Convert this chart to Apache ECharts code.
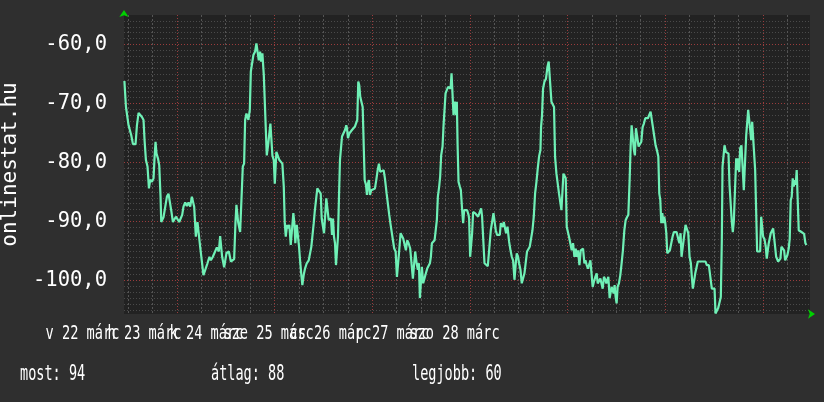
<!DOCTYPE html>
<html>
<head>
<meta charset="utf-8">
<script src="https://cdn.jsdelivr.net/npm/echarts@6/dist/echarts.min.js"></script>
<style>
html,body{margin:0;padding:0;background:#2f2f2f;}
#c{width:824px;height:402px;}
</style>
</head>
<body>
<div id="c"></div>
<script>
// time in hours since midnight of 21 March; values are the signal level
const hours = [11.1,11.48,12.12,12.78,13.2,13.84,14.18,14.58,14.99,15.41,15.8,16.05,16.39,16.78,17.13,17.45,17.86,18.26,18.5,18.75,18.99,19.34,19.66,19.98,20.15,20.47,20.71,21.2,21.55,21.94,22.36,22.6,23.02,23.34,23.76,24.15,24.57,24.98,25.3,25.62,26.04,26.46,26.85,27.27,27.68,28.0,28.25,28.66,29.06,29.4,29.72,30.14,30.53,31.02,31.51,32.0,32.35,32.84,33.33,33.82,34.31,34.63,35.12,35.61,36.18,36.77,37.26,37.75,38.07,38.39,38.63,39.05,39.3,39.54,39.96,40.2,40.52,40.77,41.09,41.33,41.58,41.92,42.17,42.48,42.8,43.22,43.54,43.88,44.13,44.45,44.69,45.01,45.36,45.75,46.09,46.41,46.66,46.98,47.22,47.47,47.81,48.06,48.45,48.87,49.19,49.6,49.92,50.27,50.51,50.76,51.08,51.32,51.64,51.98,52.3,52.62,52.87,53.11,53.46,53.78,54.02,54.27,54.59,54.83,55.17,55.49,55.91,56.4,56.72,57.04,57.29,57.63,57.87,58.19,58.51,59.0,59.35,59.59,59.91,60.16,60.48,60.72,61.07,61.31,61.63,61.88,62.12,62.37,62.61,62.86,63.1,63.42,63.59,63.84,64.08,64.33,64.58,64.99,65.31,65.63,65.8,66.05,66.37,66.71,67.03,67.35,67.77,68.09,68.33,68.58,68.82,69.07,69.41,69.66,69.9,70.15,70.47,70.71,70.96,71.2,71.45,71.77,72.26,72.68,73.0,73.34,73.66,73.98,74.39,74.81,75.13,75.55,75.87,76.19,76.53,76.85,77.1,77.41,77.76,78.08,78.39,78.64,78.98,79.3,79.62,79.97,80.29,80.6,80.95,81.34,81.69,82.0,82.32,82.57,82.92,83.23,83.48,83.72,83.97,84.21,84.53,84.95,85.19,85.52,85.86,86.18,86.42,86.67,86.99,87.33,87.65,87.89,88.14,88.46,88.7,88.95,89.29,89.54,89.78,90.03,90.35,90.67,91.01,91.26,91.5,91.75,91.99,92.31,92.63,92.8,92.98,93.22,93.54,93.79,94.11,94.35,94.6,94.94,95.33,95.68,95.82,96.07,96.31,96.56,96.8,97.05,97.3,97.64,98.03,98.45,98.77,99.01,99.26,99.6,99.92,100.41,100.9,101.15,101.47,101.81,102.13,102.37,102.69,103.04,103.36,103.61,103.85,104.1,104.34,104.66,104.91,105.25,105.64,105.99,106.31,106.63,106.97,107.29,107.53,107.85,108.1,108.44,108.76,109.18,109.42,109.74,110.06,110.41,110.72,111.04,111.39,111.71,112.03,112.37,112.69,113.01,113.35,113.5,113.74,113.99,114.33,114.72,115.07,115.38,115.8,116.05,116.37,116.69,116.94,117.28,117.6,117.92,118.27,118.51,118.76,119.0,119.32,119.57,119.81,120.13,120.37,120.72,121.04,121.36,121.7,122.02,122.27,122.59,122.93,123.25,123.57,123.82,124.16,124.4,124.72,125.04,125.38,125.63,125.95,126.19,126.51,126.85,127.17,127.42,127.74,128.08,128.4,128.65,128.96,129.31,129.55,129.8,130.04,130.36,130.6,130.85,131.09,131.34,131.58,131.83,132.07,132.32,132.64,132.98,133.3,133.62,133.97,134.29,134.61,134.95,135.27,135.52,135.76,136.08,136.33,136.57,136.82,137.16,137.48,137.8,138.14,138.46,138.78,139.12,139.44,139.76,140.1,140.42,140.74,140.99,141.33,141.65,141.97,142.32,142.56,142.81,143.05,143.3,143.54,143.79,144.03,144.28,144.52,144.84,145.16,145.5,145.82,146.14,146.49,146.81,147.05,147.3,147.54,147.79,148.03,148.35,148.7,149.01,149.33,149.68,150.0,150.32,150.56,150.81,151.15,151.4,151.72,152.03,152.28,152.62,152.94,153.26,153.6,153.92,154.24,154.74,155.23,155.47,155.82,156.14,156.38,156.7,157.04,157.36,157.68,157.93,158.1,158.34,158.59,158.91,159.25,159.57,159.82,160.13,160.38,160.63,160.87,161.22,161.46,161.71,161.95,162.2,162.44,162.76,163.08,163.33,163.67,163.92,164.16,164.41,164.65,164.9,165.14,165.39,165.63,165.88,166.12,166.37,166.61,166.93,167.35,167.6,167.84,168.09,168.41,168.73,168.97,169.22,169.46,169.71,169.95,170.3,170.54,170.79,171.03,171.28,171.52,171.77,172.09,172.33,172.58,172.9,173.24,173.49,173.81,174.05,174.37,174.62,174.86,175.11,175.35,175.6,175.84,176.09,176.33,176.58,176.83,177.17,177.49,177.81,178.15,178.47,178.72];
const values = [-66.2,-70.6,-73.7,-75.4,-76.9,-76.9,-73.7,-71.6,-71.4,-72.3,-72.8,-76.2,-79.6,-80.7,-84.4,-82.9,-83.3,-82.7,-79.3,-76.5,-78.5,-79.3,-80.5,-85.8,-90.1,-90.3,-89.3,-89.4,-85.8,-85.3,-85.1,-88.1,-90.1,-90.3,-89.2,-89.3,-90.1,-90.3,-88.9,-87.5,-86.8,-87.4,-86.8,-87.5,-85.8,-85.6,-87.5,-92.6,-90.1,-90.3,-94.3,-94.6,-99.1,-99.1,-97.1,-96,-96.6,-96,-95.7,-94.4,-95.1,-92.5,-96,-97.8,-95.4,-95.1,-96.8,-97.1,-96.4,-90.3,-87.2,-90.1,-90.3,-91.8,-91.8,-80.7,-80.2,-72.8,-71.7,-71.4,-72.8,-71.1,-64.6,-64.4,-61.8,-61.2,-59.8,-59.7,-62.7,-61.2,-62.9,-61.5,-65.2,-65.5,-78.8,-77.1,-77.4,-73.4,-73.7,-78.8,-79.6,-83.6,-78.2,-78.5,-79.6,-79.3,-80.2,-84.1,-90.3,-92.6,-90.6,-91.2,-90.6,-94,-94.3,-88.6,-90.3,-93.7,-90.6,-90.6,-94.3,-96.6,-99.1,-100.8,-99.1,-98,-97.1,-96.6,-96.4,-94.3,-92.6,-90.3,-88.4,-88.1,-84.4,-84.7,-85.3,-89.5,-89.8,-92,-91.8,-86.1,-86.4,-89.8,-90.1,-89.5,-92.3,-89.5,-92.6,-93.7,-97.4,-97.4,-92.6,-85.8,-79.6,-79.3,-75.6,-75.4,-74.5,-73.7,-74.2,-75.9,-75.1,-75.1,-74.5,-74.2,-73.9,-73.7,-72.8,-66.3,-66.9,-68.9,-69.2,-70.6,-70.9,-83,-83.8,-85.5,-83.6,-83,-85.5,-84.7,-84.7,-84.4,-83,-81.3,-80.2,-81.6,-81.3,-81.3,-82.7,-85.3,-85.3,-88.9,-90.6,-90.9,-93.2,-94.6,-95.1,-99.4,-99.4,-94.9,-92,-92.3,-92.9,-93.2,-94.9,-93.2,-93.7,-94.6,-94.9,-99.7,-99.9,-95.1,-97.1,-98.2,-97.1,-103,-103,-97.7,-100.5,-100.5,-98.8,-98,-97.7,-97.1,-96,-93.7,-93.4,-93.2,-92.9,-89.8,-85.8,-84.1,-82.4,-78.8,-77.3,-73.7,-73.4,-68.3,-67.7,-67.2,-67.2,-67.5,-64.9,-64.9,-72,-69.7,-72,-69.7,-76.8,-83.3,-84.1,-84.7,-88.1,-90.3,-88.1,-88.4,-88.1,-88.9,-89.5,-96,-96,-92,-88.4,-88.1,-88.6,-88.4,-89.2,-89.2,-87.8,-89.2,-92.6,-97.1,-97.4,-97.6,-97.6,-91.5,-90.1,-88.6,-90.3,-91.5,-92.3,-92,-92.3,-90.3,-90.1,-90.9,-90.1,-89.8,-92,-90.9,-93.4,-94.9,-96,-96.6,-99.9,-97.1,-95.4,-96,-97.1,-98.2,-100.5,-100.8,-98.8,-98.8,-95.1,-94.9,-94.3,-94.3,-91.5,-89.2,-85.3,-83.3,-81,-79,-77.9,-74,-72,-67.5,-66.3,-65.8,-63.8,-62.9,-62.8,-69.7,-69.7,-70.6,-79,-81.9,-82.2,-85.3,-85.3,-88.1,-88.1,-81.9,-81.9,-82.7,-90.9,-90.9,-92.6,-92.9,-94.9,-93.7,-96,-94.6,-96,-94.9,-97.4,-94.9,-95.1,-94.6,-97.1,-96.6,-97.4,-98,-98,-96.6,-96.3,-101.1,-100.2,-99.4,-98.8,-100.5,-100.8,-99.7,-99.4,-101.4,-99.4,-99.9,-100.5,-99.9,-99.4,-103,-103,-101.1,-100.8,-102.2,-100.8,-102.8,-103.9,-101.1,-100.5,-99.1,-97.1,-94.9,-91.5,-89.8,-89.3,-88.9,-83,-77.3,-73.7,-74,-77.9,-78.8,-74.2,-74.5,-77.3,-77.6,-76.5,-74,-73.4,-72.5,-72.7,-72.5,-72.8,-71.4,-71.4,-74,-75.6,-77.1,-77.9,-79,-85.3,-86.4,-90.3,-88.6,-90.3,-89.2,-90.3,-92,-95.4,-95.4,-94.9,-94.9,-92.6,-91.8,-91.5,-91.8,-91.5,-93.2,-93.7,-92,-96,-96,-92.3,-90.6,-90.9,-92,-96,-97.1,-99.4,-101.4,-101.4,-98.8,-98.5,-96.8,-97.1,-96.8,-97,-96.8,-96.6,-96.8,-97.4,-97.4,-97.1,-101.4,-101.4,-101.4,-105.6,-105.6,-104.7,-104.7,-102.8,-93.2,-80.7,-80.5,-77.1,-78.2,-78.5,-78.5,-83.8,-84.1,-90.1,-91.8,-90.1,-89.8,-79.3,-81.3,-79.3,-81.6,-77.6,-77.1,-77.4,-84.7,-84.7,-75.4,-75.1,-71.1,-71,-74.5,-76.2,-73.1,-72.8,-72.8,-81.3,-81.3,-95.1,-95.2,-95.1,-89.2,-89.5,-92.6,-93,-94.3,-96.3,-96,-93.7,-94,-92,-91.8,-91.2,-91.2,-94.3,-96,-96,-96.8,-97.1,-96.3,-94.3,-94.3,-94.9,-96.6,-96.6,-95.7,-94.6,-92.9,-86.4,-85.8,-82.7,-84.1,-83,-83.8,-81.3,-81.6,-91.5,-91.6,-91.8,-91.8,-92.1,-93.7,-94];
const dayLabels = ['v 22 márc','h 23 márc','k 24 márc','sze 25 márc','cs 26 márc','p 27 márc','szo 28 márc'];
const yTitle = 'onlinestat.hu';
const statTexts = ['most: 94','átlag: 88','legjobb: 60'];

const chart = echarts.init(document.getElementById('c'), null, {renderer:'canvas'});
const mono = '"DejaVu Sans Mono", monospace';
const option = {
  backgroundColor: '#2f2f2f',
  animation: false,
  grid: [
    {left:124, top:15, right:14, bottom:88, show:true, backgroundColor:'#222222', borderWidth:0, outerBoundsMode:'none'},
    {left:82.5, width:372, top:15, bottom:88, show:false, outerBoundsMode:'none'}
  ],
  xAxis: [
    {
      type:'value', gridIndex:0, min:11, max:179.6, splitNumber:7, minInterval:24, maxInterval:24,
      axisLine:{show:true, lineStyle:{color:'#00d000', opacity:0}, symbol:['none','arrow'], symbolSize:[7,7], symbolOffset:[0,5]},
      axisTick:{show:false}, axisLabel:{show:false},
      splitLine:{show:true, showMinLine:false, showMaxLine:false, lineStyle:{color:'#9a3c3c', type:[1,2], width:1}},
      minorTick:{show:false, splitNumber:4},
      minorSplitLine:{show:true, lineStyle:{color:'#555555', type:[2,2], width:1}}
    },
    {
      // day label axis: its scale places the labels drawn below
      type:'category', gridIndex:1, data:dayLabels, boundaryGap:false,
      axisLine:{show:false}, axisTick:{show:false}, splitLine:{show:false}, axisLabel:{show:false}
    }
  ],
  yAxis: [
    {
      type:'value', gridIndex:0, min:-105.7, max:-55, splitNumber:5, minInterval:10, maxInterval:10,
      name: yTitle, nameLocation:'middle', nameGap:103, nameRotate:90,
      nameTextStyle:{color:'#ffffff', fontFamily:mono, fontSize:21},
      axisLine:{show:true, lineStyle:{color:'#00d000', opacity:0}, symbol:['none','arrow'], symbolSize:[7,7], symbolOffset:[0,5]},
      axisTick:{show:false},
      axisLabel:{show:true, color:'#ffffff', fontFamily:mono, fontSize:20.5, margin:17,
        formatter: v => (Math.abs(v % 10) < 1e-6 ? v.toFixed(1).replace('.', ',') : '')},
      splitLine:{show:true, showMinLine:false, showMaxLine:false, lineStyle:{color:'#9a3c3c', type:[1,2], width:1}},
      minorTick:{show:false, splitNumber:10},
      minorSplitLine:{show:true, lineStyle:{color:'#4a4a4a', type:[1,2], width:1}}
    },
    {type:'value', gridIndex:1, show:false}
  ],
  series: [{
    type:'line', xAxisIndex:0, yAxisIndex:0, showSymbol:false, symbol:'none', sampling:null,
    lineStyle:{color:'#6ff0b6', width:2.2}, clip:true,
    data: hours.map((h,i)=>[h, values[i]])
  }]
};
chart.setOption(option);

// condensed monospace texts (day labels placed by the category axis scale, and the stats line)
const labelFont = '19.6px "DejaVu Sans Mono"';
const statFont = '21px "DejaVu Sans Mono"';
const graphics = dayLabels.map((lab, i) => ({
  type:'text', x: chart.convertToPixel({xAxisIndex:1, yAxisIndex:1}, [i, 0])[0], y:333.5, scaleX:0.695,
  style:{text:lab, fill:'#ffffff', font:labelFont, align:'center', verticalAlign:'middle'}
}));
const statX = [20, 211, 412];
statTexts.forEach((t, i) => graphics.push({
  type:'text', x:statX[i], y:375, scaleX:0.645,
  style:{text:t, fill:'#ffffff', font:statFont, align:'left', verticalAlign:'middle'}
}));
chart.setOption({graphic: graphics});
</script>
</body>
</html>
